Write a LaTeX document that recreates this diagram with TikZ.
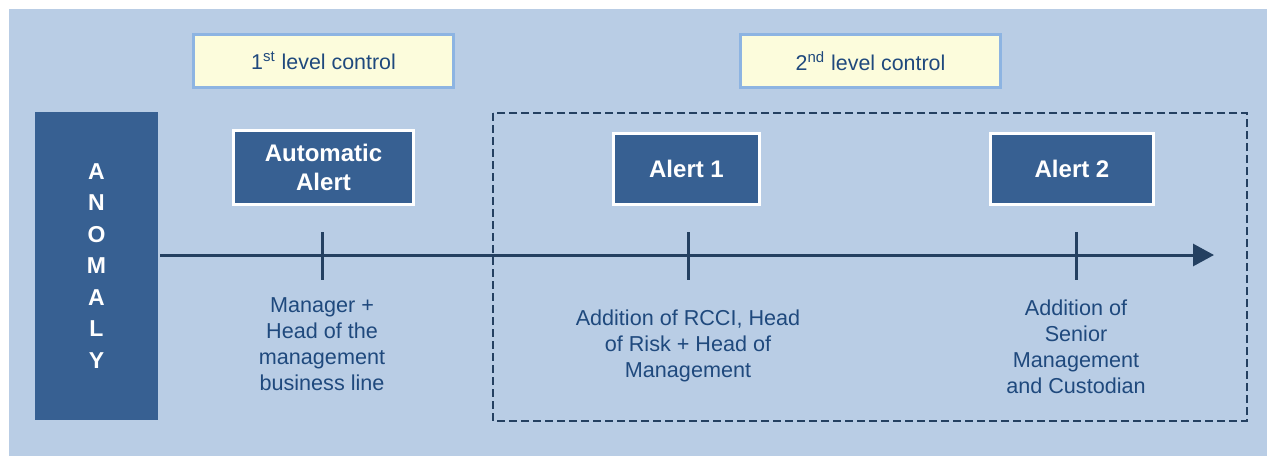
\documentclass[tikz,border=0pt]{standalone}
\usepackage{fontspec}
\setmainfont{Liberation Sans}
\usetikzlibrary{arrows.meta}
\definecolor{bgblue}{RGB}{185,205,229}
\definecolor{boxblue}{RGB}{55,96,146}
\definecolor{paleyellow}{RGB}{252,252,220}
\definecolor{lightframe}{RGB}{141,180,226}
\definecolor{darkline}{RGB}{36,64,97}
\definecolor{txtblue}{RGB}{31,73,125}
\begin{document}
\begin{tikzpicture}[x=0.5pt, y=-0.5pt,
  alertbox/.style={draw=white, line width=1.5pt, fill=boxblue, text=white,
    font=\fontsize{12}{14.5}\selectfont\bfseries, align=center, inner sep=0pt},
  levelbox/.style={draw=lightframe, line width=1.5pt, fill=paleyellow, text=txtblue,
    font=\fontsize{10.7}{13}\selectfont, minimum width=130pt, minimum height=26.5pt, inner sep=0pt},
  whotext/.style={text=txtblue, align=center, font=\fontsize{10.8}{13}\selectfont, inner sep=0pt},
  tick/.style={darkline, line width=1.5pt}]

  % Background and frame
  \useasboundingbox (0,0) rectangle (1267,456);
  \fill[bgblue] (9,9) rectangle (1267,456);

  % Anomaly bar
  \node[fill=boxblue, text=white, minimum width=61.5pt, minimum height=154pt, inner sep=0pt,
        align=center, font=\fontsize{11.5}{15.75}\selectfont\bfseries] (anomaly) at (96.5,266)
        {A\\N\\O\\M\\A\\L\\Y};

  % Control levels
  \node[levelbox] (level1) at (323.5,61) {1\textsuperscript{st} level control};
  \node[levelbox] (level2) at (870.5,61) {2\textsuperscript{nd} level control};

  % Second level frame
  \draw[darkline, line width=1.25pt, dash pattern=on 4pt off 2pt] (493,113) rectangle (1247,421);

  % Alerts
  \node[alertbox, minimum width=90pt, minimum height=37pt] (auto) at (323.5,167.5) {Automatic\\Alert};
  \node[alertbox, minimum width=73pt, minimum height=35.5pt] (alert1) at (686.5,169) {Alert 1};
  \node[alertbox, minimum width=81.5pt, minimum height=35.5pt] (alert2) at (1072,169) {Alert 2};

  % Timeline
  \coordinate (tstart) at (160,255);
  \coordinate (tend) at (1214,255);
  \draw[darkline, line width=1.5pt, -{Triangle[length=10.5pt, width=11pt]}] (tstart) -- (tend);

  % Ticks
  \coordinate (t1) at (322,255);
  \coordinate (t2) at (688,255);
  \coordinate (t3) at (1076,255);
  \foreach \t in {t1,t2,t3}
    \draw[tick] (\t) ++(0,-23) -- ++(0,48);

  % Who is involved
  \node[whotext] (who1) at (322,344) {Manager +\\Head of the\\management\\business line};
  \node[whotext] (who2) at (688,346) {Addition of RCCI, Head\\of Risk + Head of\\Management};
  \node[whotext] (who3) at (1076,347) {Addition of\\Senior\\Management\\and Custodian};

\end{tikzpicture}
\end{document}
